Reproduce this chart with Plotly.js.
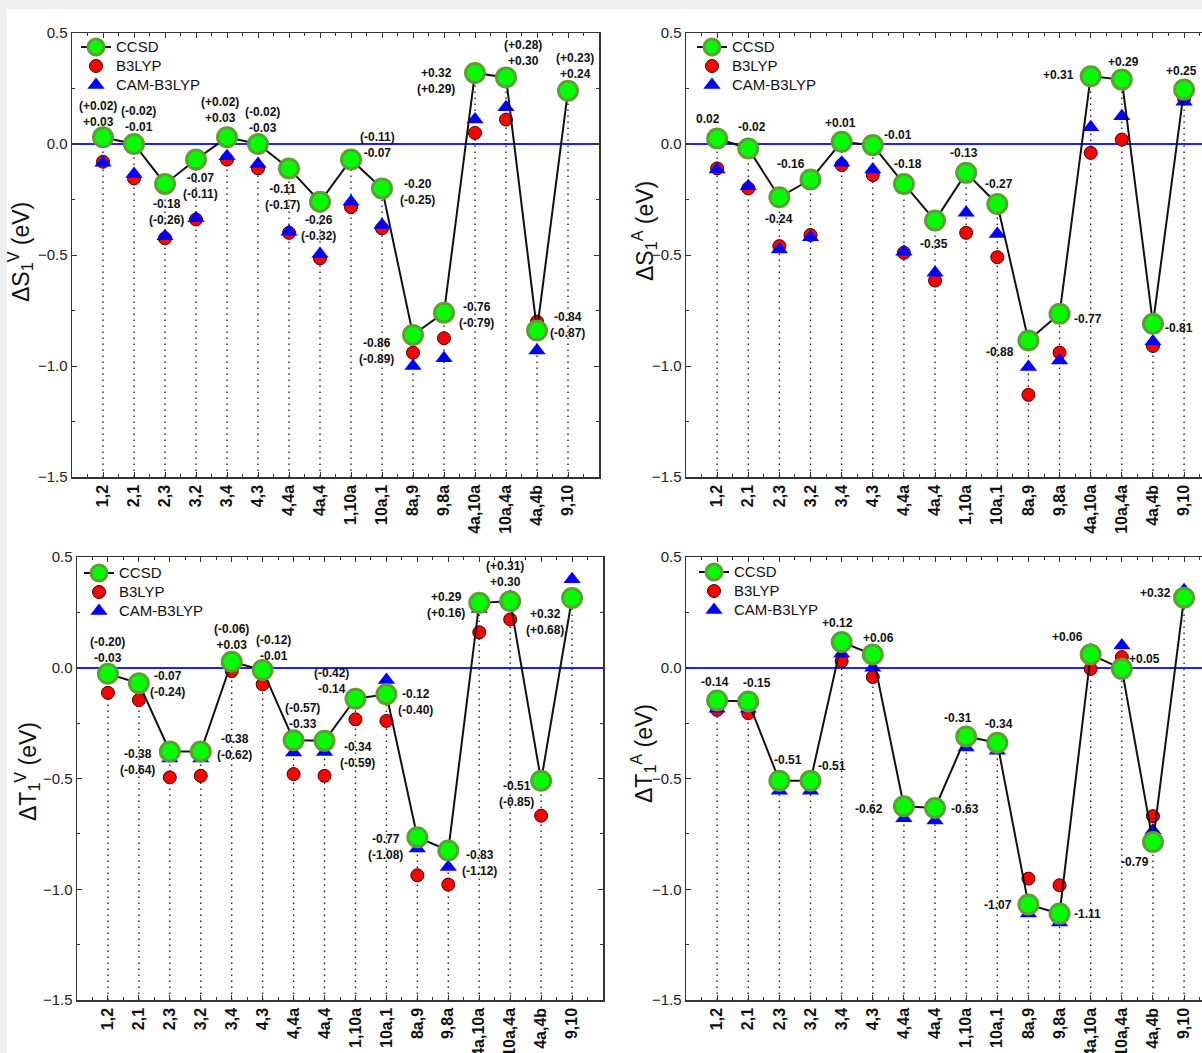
<!DOCTYPE html>
<html>
<head>
<meta charset="utf-8">
<script src="https://cdn.plot.ly/plotly-3.0.1.min.js"></script>
<style>
  html, body { margin: 0; padding: 0; background: #efefef; width: 1202px; height: 1053px; overflow: hidden; }
  #chart { position: absolute; left: 7px; top: 9px; width: 1195px; height: 1044px; background: #ffffff; }
</style>
</head>
<body>
<div id="chart"></div>
<script>
// ---------------- data ----------------
const categories = ["1,2","2,1","2,3","3,2","3,4","4,3","4,4a","4a,4","1,10a","10a,1","8a,9","9,8a","4a,10a","10a,4a","4a,4b","9,10"];
const seriesNames = ["CCSD", "B3LYP", "CAM-B3LYP"];

// Delta S1 vertical
const svCCSD  = [0.03, 0.00, -0.18, -0.07, 0.03, 0.00, -0.11, -0.26, -0.07, -0.20, -0.86, -0.76, 0.32, 0.30, -0.84, 0.24];
const svB3LYP = [-0.08, -0.155, -0.425, -0.34, -0.07, -0.11, -0.40, -0.515, -0.285, -0.38, -0.94, -0.875, 0.05, 0.11, -0.80, 0.23];
const svCAM   = [-0.085, -0.135, -0.415, -0.335, -0.055, -0.09, -0.395, -0.495, -0.26, -0.365, -1.00, -0.965, 0.11, 0.165, -0.93, 0.24];
const svLabels = ["(+0.02)<br>+0.03","(-0.02)<br>-0.01","-0.18<br>(-0.26)","-0.07<br>(-0.11)","(+0.02)<br>+0.03","(-0.02)<br>-0.03","-0.11<br>(-0.17)","-0.26<br>(-0.32)","(-0.11)<br>-0.07","-0.20<br>(-0.25)","-0.86<br>(-0.89)","-0.76<br>(-0.79)","+0.32<br>(+0.29)","(+0.28)<br>+0.30","-0.84<br>(-0.87)","(+0.23)<br>+0.24"];

// Delta S1 adiabatic
const saCCSD  = [0.025, -0.02, -0.24, -0.16, 0.01, -0.005, -0.18, -0.345, -0.13, -0.27, -0.885, -0.765, 0.305, 0.29, -0.81, 0.245];
const saB3LYP = [-0.11, -0.20, -0.46, -0.41, -0.095, -0.14, -0.49, -0.615, -0.40, -0.51, -1.13, -0.94, -0.04, 0.02, -0.91, 0.205];
const saCAM   = [-0.115, -0.19, -0.475, -0.42, -0.085, -0.115, -0.485, -0.58, -0.31, -0.405, -1.005, -0.975, 0.075, 0.125, -0.89, 0.19];
const saLabels = ["0.02","-0.02","-0.24","-0.16","+0.01","-0.01","-0.18","-0.35","-0.13","-0.27","-0.88","-0.77","+0.31","+0.29","-0.81","+0.25"];

// Delta T1 vertical
const tvCCSD  = [-0.027, -0.07, -0.378, -0.378, 0.027, -0.01, -0.327, -0.33, -0.14, -0.12, -0.765, -0.825, 0.293, 0.30, -0.51, 0.315];
const tvB3LYP = [-0.113, -0.146, -0.495, -0.488, -0.015, -0.075, -0.48, -0.488, -0.233, -0.24, -0.937, -0.979, 0.16, 0.218, -0.668, 0.30];
const tvCAM   = [-0.03, -0.075, -0.41, -0.41, 0.02, -0.015, -0.383, -0.38, -0.15, -0.055, -0.816, -0.90, 0.265, 0.32, -0.52, 0.40];
const tvLabels = ["(-0.20)<br>-0.03","-0.07<br>(-0.24)","-0.38<br>(-0.64)","-0.38<br>(-0.62)","(-0.06)<br>+0.03","(-0.12)<br>-0.01","(-0.57)<br>-0.33","-0.34<br>(-0.59)","(-0.42)<br>-0.14","-0.12<br>(-0.40)","-0.77<br>(-1.08)","-0.83<br>(-1.12)","+0.29<br>(+0.16)","(+0.31)<br>+0.30","-0.51<br>(-0.85)","+0.32<br>(+0.68)"];

// Delta T1 adiabatic
const taCCSD  = [-0.148, -0.152, -0.51, -0.51, 0.116, 0.06, -0.625, -0.633, -0.31, -0.339, -1.069, -1.11, 0.06, -0.005, -0.787, 0.316];
const taB3LYP = [-0.19, -0.205, -0.51, -0.51, 0.03, -0.042, -0.63, -0.64, -0.32, -0.345, -0.952, -0.982, -0.005, 0.048, -0.67, 0.31];
const taCAM   = [-0.185, -0.185, -0.555, -0.555, 0.063, 0.0, -0.68, -0.69, -0.36, -0.375, -1.11, -1.15, 0.08, 0.10, -0.735, 0.35];
const taLabels = ["-0.14","-0.15","-0.51","-0.51","+0.12","+0.06","-0.62","-0.63","-0.31","-0.34","-1.07","-1.11","+0.06","+0.05","-0.79","+0.32"];

// ---------------- label placement (pixel offsets of label centre from CCSD point) ----------------
const svOffsets = [[-5,-23],[4,-25],[1,28],[4,26],[-7,-27],[4,-24],[-7,29],[-2,26],[26,-15],[35,4],[-37,16],[32,2],[-39,8],[17,-24],[30,-5],[7,-25]];
const saOffsets = [[-9,-19],[4,-21],[0,22],[-20,-16],[-1,-19],[25,-10],[4,-20],[-1,23],[-2,-20],[2,-20],[-28,12],[28,5],[-32,-1],[2,-18],[26,4],[-3,-19]];
const tvOffsets = [[0,-24],[29,1],[-32,11],[34,-4],[0,-25],[11,-22],[9,-24],[33,14],[-24,-18],[29,8],[-32,10],[31,13],[-33,2],[-5,-27],[-25,13],[-27,24]];
const taOffsets = [[-2,-19],[9,-18],[9,-21],[21,-15],[-4,-19],[6,-16],[-35,3],[30,1],[-8,-18],[2,-19],[-30,0],[28,0],[-23,-17],[23,-10],[-18,20],[-29,-5]];

// ---------------- geometry ----------------
const OX = 7, OY = 9, W = 1195, H = 1044;
const px = p => (p - OX) / W;
const py = p => 1 - (p - OY) / H;

const FONT = "Liberation Sans, Arial, Helvetica, sans-serif";
const idx = categories.map((c, i) => i);
const legendName = s => '<span style="font-size:15px">' + s + '</span>';

const panels = [
  {ccsd: svCCSD, b3: svB3LYP, cam: svCAM, labels: svLabels, offs: svOffsets, title: "ΔS<sub>1</sub><sup>V</sup> (eV)",
   left: 72, right: 599, top: 33, bottom: 477, xmax: 16, mirrorY: "ticks", legX: 76, legY: 32.5, tX: 20, tY: 252},
  {ccsd: saCCSD, b3: saB3LYP, cam: saCAM, labels: saLabels, offs: saOffsets, title: "ΔS<sub>1</sub><sup>A</sup> (eV)",
   left: 686, right: 1202, top: 33, bottom: 477, xmax: -1 + 516 / 31.13, mirrorY: false, legX: 692, legY: 32.5, tX: 644, tY: 231},
  {ccsd: tvCCSD, b3: tvB3LYP, cam: tvCAM, labels: tvLabels, offs: tvOffsets, title: "ΔT<sub>1</sub><sup>V</sup> (eV)",
   left: 77, right: 603, top: 557, bottom: 1000, xmax: 16, mirrorY: "ticks", legX: 79, legY: 558.5, tX: 27, tY: 772},
  {ccsd: taCCSD, b3: taB3LYP, cam: taCAM, labels: taLabels, offs: taOffsets, title: "ΔT<sub>1</sub><sup>A</sup> (eV)",
   left: 686, right: 1202, top: 557, bottom: 1000, xmax: -1 + 516 / 31.13, mirrorY: false, legX: 694, legY: 557.5, tX: 643, tY: 754}
];

const traces = [];
const layout = {
  width: 1195, height: 1044,
  margin: {l: 0, r: 0, t: 0, b: 0},
  paper_bgcolor: "#ffffff", plot_bgcolor: "#ffffff",
  showlegend: true,
  font: {family: FONT, color: "#222"},
  annotations: []
};

panels.forEach((p, k) => {
  const n = k + 1;
  const xa = n === 1 ? "x" : "x" + n;
  const ya = n === 1 ? "y" : "y" + n;
  const lg = n === 1 ? "legend" : "legend" + n;

  // dotted drop lines from the bottom of the axis up to each CCSD point
  const dx = [], dy = [];
  idx.forEach(i => { dx.push(i, i, null); dy.push(-1.5, p.ccsd[i], null); });
  traces.push({x: dx, y: dy, xaxis: xa, yaxis: ya, mode: "lines", showlegend: false, hoverinfo: "skip",
               line: {color: "#222", width: 1.4, dash: "1.4px,4.6px"}});

  traces.push({x: idx, y: p.b3, xaxis: xa, yaxis: ya, mode: "markers", name: legendName(seriesNames[1]), legend: lg, legendrank: 2,
               marker: {symbol: "circle", size: 13, color: "#ff0000", line: {color: "#3a0000", width: 1}}});
  traces.push({x: idx, y: p.cam, xaxis: xa, yaxis: ya, mode: "markers", name: legendName(seriesNames[2]), legend: lg, legendrank: 3,
               marker: {symbol: "triangle-up", size: 15, color: "#0000ff", line: {width: 0}}});
  traces.push({x: idx, y: p.ccsd, xaxis: xa, yaxis: ya, mode: "lines+markers", name: legendName(seriesNames[0]), legend: lg, legendrank: 1,
               line: {color: "#111", width: 2},
               marker: {symbol: "circle", size: 19, color: "#00ff00", line: {color: "#5e9e35", width: 3}}});

  layout["xaxis" + (n === 1 ? "" : n)] = {
    domain: [px(p.left), Math.min(1, px(p.right))],
    anchor: ya, range: [-1, p.xmax], type: "linear",
    tickmode: "array", tickvals: idx, ticktext: categories, tickangle: -90,
    tickfont: {family: FONT, size: 16, color: "#111", weight: "bold"},
    ticks: "inside", ticklen: 5, tickcolor: "#333", tickwidth: 1,
    minor: {dtick: 0.5, tick0: 0.5, ticks: "inside", ticklen: 3, tickcolor: "#333"},
    showline: true, linecolor: "#333", linewidth: 1.5, mirror: "ticks",
    showgrid: false, zeroline: false, fixedrange: true
  };
  layout["yaxis" + (n === 1 ? "" : n)] = {
    domain: [py(p.bottom), py(p.top)],
    anchor: xa, range: [-1.5, 0.5],
    dtick: 0.5, tick0: 0, tickformat: ".1f",
    tickfont: {family: FONT, size: 15, color: "#222"},
    ticks: "inside", ticklen: 5, tickcolor: "#333", tickwidth: 1,
    minor: {dtick: 0.25, ticks: "inside", ticklen: 3, tickcolor: "#333"},
    showline: true, linecolor: "#333", linewidth: 1.5, mirror: p.mirrorY,
    showgrid: false,
    zeroline: true, zerolinecolor: "#2323d8", zerolinewidth: 2,
    fixedrange: true
  };

  layout[lg] = {
    x: px(p.legX), y: py(p.legY), xanchor: "left", yanchor: "top",
    bgcolor: "rgba(0,0,0,0)", borderwidth: 0,
    font: {family: FONT, size: 12, color: "#111"},
    tracegroupgap: 0, itemsizing: "trace"
  };

  // y-axis title
  layout.annotations.push({
    xref: "paper", yref: "paper", x: px(p.tX), y: py(p.tY), text: p.title, showarrow: false,
    textangle: -90, xanchor: "center", yanchor: "middle",
    font: {family: FONT, size: 23, color: "#111"}
  });

  p.labels.forEach((t, i) => {
    layout.annotations.push({
      xref: xa, yref: ya, x: i, y: p.ccsd[i], text: t, showarrow: false,
      xanchor: "center", yanchor: "middle", align: "center",
      xshift: p.offs[i][0], yshift: -p.offs[i][1],
      font: {family: FONT, size: 12, color: "#111", weight: "bold"}
    });
  });
});

Plotly.newPlot("chart", traces, layout, {staticPlot: true, displayModeBar: false});
</script>
</body>
</html>
